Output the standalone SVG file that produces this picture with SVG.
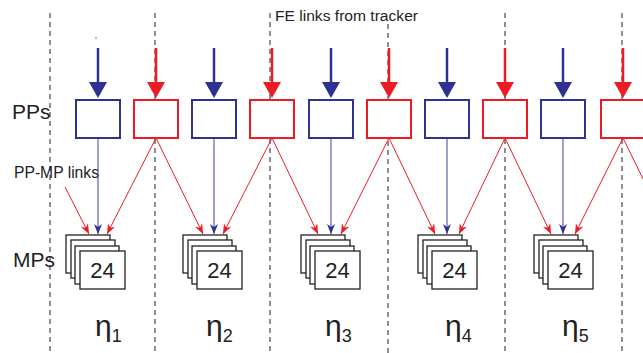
<svg xmlns="http://www.w3.org/2000/svg" width="643" height="353" viewBox="0 0 643 353">
<defs>
<style>
.dash{stroke:#333;stroke-width:1.1;stroke-dasharray:5,4;fill:none}
.pb{fill:#fff;stroke:#2e3192;stroke-width:2}
.pr{fill:#fff;stroke:#ed1c24;stroke-width:2}
.fb{stroke:#2e3192;stroke-width:2.5}
.fr{stroke:#ed1c24;stroke-width:2.5}
.lb{stroke:#3a45a0;stroke-width:1;fill:none}
.lr{stroke:#ed1c24;stroke-width:1;fill:none}
.card{fill:#fff;stroke:#222;stroke-width:1.3}
.t{font-family:"Liberation Sans",Arial,sans-serif;fill:#222}
</style>
<marker id="ab" viewBox="0 0 10 8" refX="10" refY="4" markerWidth="10" markerHeight="8" markerUnits="userSpaceOnUse" orient="auto"><path d="M0,0 L10,4 L0,8 L3,4 z" fill="#2e3192"/></marker>
<marker id="ar" viewBox="0 0 10 8" refX="10" refY="4" markerWidth="10" markerHeight="8" markerUnits="userSpaceOnUse" orient="auto"><path d="M0,0 L10,4 L0,8 L3,4 z" fill="#ed1c24"/></marker>
</defs>
<rect width="643" height="353" fill="#fff"/>
<g id="dividers">
<line class="dash" x1="50" y1="13" x2="50" y2="353"/>
<line class="dash" x1="155" y1="13" x2="155" y2="353"/>
<line class="dash" x1="270" y1="13" x2="270" y2="353"/>
<line class="dash" x1="388" y1="24" x2="388" y2="353"/>
<line class="dash" x1="505" y1="13" x2="505" y2="353"/>
<line class="dash" x1="622" y1="13" x2="622" y2="353"/>
</g>
<text class="t" x="275" y="21" font-size="15.5" textLength="143" lengthAdjust="spacingAndGlyphs">FE links from tracker</text>
<circle cx="96" cy="38" r="0.8" fill="#555"/>
<text class="t" x="12" y="119" font-size="21">PPs</text>
<text class="t" x="14" y="178" font-size="16" textLength="85" lengthAdjust="spacingAndGlyphs">PP-MP links</text>
<text class="t" x="13" y="267" font-size="21">MPs</text>
<g id="fe-links">
<line class="fb" x1="98" y1="48" x2="98" y2="84"/><path d="M89,82 L107,82 L98,98 z" fill="#2e3192"/>
<line class="fr" x1="156" y1="48" x2="156" y2="84"/><path d="M147,82 L165,82 L156,98 z" fill="#ed1c24"/>
<line class="fb" x1="214" y1="48" x2="214" y2="84"/><path d="M205,82 L223,82 L214,98 z" fill="#2e3192"/>
<line class="fr" x1="272" y1="48" x2="272" y2="84"/><path d="M263,82 L281,82 L272,98 z" fill="#ed1c24"/>
<line class="fb" x1="331" y1="48" x2="331" y2="84"/><path d="M322,82 L340,82 L331,98 z" fill="#2e3192"/>
<line class="fr" x1="389" y1="48" x2="389" y2="84"/><path d="M380,82 L398,82 L389,98 z" fill="#ed1c24"/>
<line class="fb" x1="447" y1="48" x2="447" y2="84"/><path d="M438,82 L456,82 L447,98 z" fill="#2e3192"/>
<line class="fr" x1="505" y1="48" x2="505" y2="84"/><path d="M496,82 L514,82 L505,98 z" fill="#ed1c24"/>
<line class="fb" x1="563" y1="48" x2="563" y2="84"/><path d="M554,82 L572,82 L563,98 z" fill="#2e3192"/>
<line class="fr" x1="623" y1="48" x2="623" y2="84"/><path d="M614,82 L632,82 L623,98 z" fill="#ed1c24"/>
</g>
<g id="pp-mp-links">
<line class="lr" x1="65" y1="187" x2="89" y2="234" marker-end="url(#ar)"/>
<line class="lb" x1="98" y1="138" x2="98" y2="234" marker-end="url(#ab)"/>
<line class="lr" x1="156" y1="138" x2="107" y2="234" marker-end="url(#ar)"/>
<line class="lr" x1="156" y1="138" x2="203" y2="234" marker-end="url(#ar)"/>
<line class="lb" x1="214" y1="138" x2="214" y2="234" marker-end="url(#ab)"/>
<line class="lr" x1="272" y1="138" x2="223" y2="234" marker-end="url(#ar)"/>
<line class="lr" x1="272" y1="138" x2="318" y2="234" marker-end="url(#ar)"/>
<line class="lb" x1="331" y1="138" x2="331" y2="234" marker-end="url(#ab)"/>
<line class="lr" x1="389" y1="138" x2="341" y2="234" marker-end="url(#ar)"/>
<line class="lr" x1="389" y1="138" x2="435" y2="234" marker-end="url(#ar)"/>
<line class="lb" x1="447" y1="138" x2="447" y2="234" marker-end="url(#ab)"/>
<line class="lr" x1="505" y1="138" x2="459" y2="234" marker-end="url(#ar)"/>
<line class="lr" x1="505" y1="138" x2="551" y2="234" marker-end="url(#ar)"/>
<line class="lb" x1="563" y1="138" x2="563" y2="234" marker-end="url(#ab)"/>
<line class="lr" x1="623" y1="138" x2="575" y2="234" marker-end="url(#ar)"/>
<line class="lr" x1="623" y1="138" x2="670" y2="234"/>
</g>
<g id="pp-b1"><rect class="pb" x="76" y="100" width="44" height="38"/></g>
<g id="pp-r1"><rect class="pr" x="134" y="100" width="44" height="38"/></g>
<g id="pp-b2"><rect class="pb" x="192" y="100" width="44" height="38"/></g>
<g id="pp-r2"><rect class="pr" x="250" y="100" width="44" height="38"/></g>
<g id="pp-b3"><rect class="pb" x="309" y="100" width="44" height="38"/></g>
<g id="pp-r3"><rect class="pr" x="367" y="100" width="44" height="38"/></g>
<g id="pp-b4"><rect class="pb" x="425" y="100" width="44" height="38"/></g>
<g id="pp-r4"><rect class="pr" x="483" y="100" width="44" height="38"/></g>
<g id="pp-b5"><rect class="pb" x="541" y="100" width="44" height="38"/></g>
<g id="pp-r5"><rect class="pr" x="601" y="100" width="44" height="38"/></g>
<g id="mp1" transform="translate(66,0)">
<rect class="card" x="0" y="235" width="44" height="38"/><rect class="card" x="5" y="240" width="44" height="38"/><rect class="card" x="9" y="246" width="44" height="38"/><rect class="card" x="14" y="251" width="45" height="38"/>
<text class="t" x="36.5" y="278" font-size="22" text-anchor="middle">24</text></g>
<g id="mp2" transform="translate(183,0)">
<rect class="card" x="0" y="235" width="44" height="38"/><rect class="card" x="5" y="240" width="44" height="38"/><rect class="card" x="9" y="246" width="44" height="38"/><rect class="card" x="14" y="251" width="45" height="38"/>
<text class="t" x="36.5" y="278" font-size="22" text-anchor="middle">24</text></g>
<g id="mp3" transform="translate(301,0)">
<rect class="card" x="0" y="235" width="44" height="38"/><rect class="card" x="5" y="240" width="44" height="38"/><rect class="card" x="9" y="246" width="44" height="38"/><rect class="card" x="14" y="251" width="45" height="38"/>
<text class="t" x="36.5" y="278" font-size="22" text-anchor="middle">24</text></g>
<g id="mp4" transform="translate(418,0)">
<rect class="card" x="0" y="235" width="44" height="38"/><rect class="card" x="5" y="240" width="44" height="38"/><rect class="card" x="9" y="246" width="44" height="38"/><rect class="card" x="14" y="251" width="45" height="38"/>
<text class="t" x="36.5" y="278" font-size="22" text-anchor="middle">24</text></g>
<g id="mp5" transform="translate(534,0)">
<rect class="card" x="0" y="235" width="44" height="38"/><rect class="card" x="5" y="240" width="44" height="38"/><rect class="card" x="9" y="246" width="44" height="38"/><rect class="card" x="14" y="251" width="45" height="38"/>
<text class="t" x="36.5" y="278" font-size="22" text-anchor="middle">24</text></g>
<g id="eta-labels">
<text class="t" x="95" y="336" font-size="30">η<tspan font-size="18" dy="6">1</tspan></text>
<text class="t" x="206" y="336" font-size="30">η<tspan font-size="18" dy="6">2</tspan></text>
<text class="t" x="325" y="336" font-size="30">η<tspan font-size="18" dy="6">3</tspan></text>
<text class="t" x="445" y="336" font-size="30">η<tspan font-size="18" dy="6">4</tspan></text>
<text class="t" x="562" y="336" font-size="30">η<tspan font-size="18" dy="6">5</tspan></text>
</g>
</svg>
